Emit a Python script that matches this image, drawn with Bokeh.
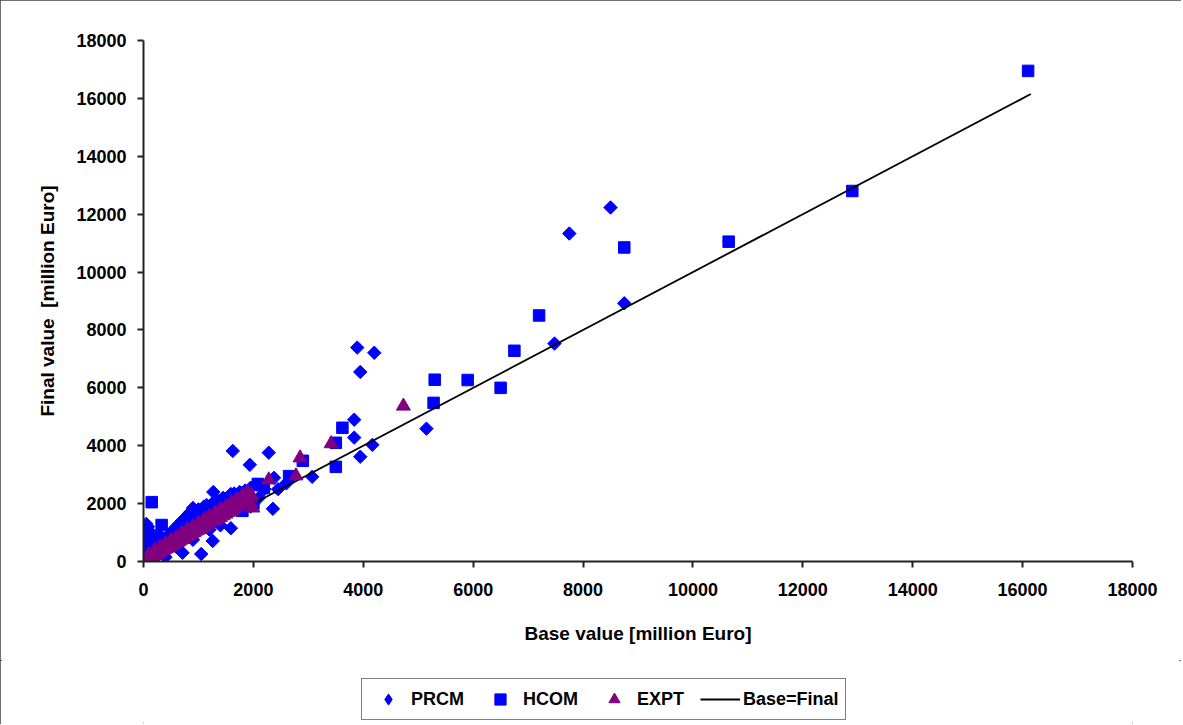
import math
from bokeh.plotting import figure
from bokeh.layouts import column
from bokeh.models import FixedTicker, Legend, LegendItem
from bokeh.embed import file_html
from bokeh.resources import INLINE

# ---------------- data ----------------
ticks = [0, 2000, 4000, 6000, 8000, 10000, 12000, 14000, 16000, 18000]

prcm_x = [8500, 7750, 8750, 7480, 3890, 4200, 3945, 3835, 3835, 4165, 3945, 5150,
          1625, 1935, 2280, 2375, 2355, 3070, 1270, 1050,
          0, 20, 30, 40, 70, 100, 130, 160, 200, 220, 260, 300, 350, 400, 420, 480,
          520, 560, 600, 650, 700, 710, 750, 800, 850, 900, 950, 1000, 1050, 1100,
          1150, 1200, 1260, 1300, 1350, 1400, 1450, 1500, 1590, 1600, 1650, 1700,
          1770, 1800, 1850, 1900, 1950, 2000, 2100, 2200, 2450, 2600, 1590, 1400,
          1200, 900, 600,
          0, 0, 0, 10, 50, 80, 120, 180, 250, 300, 350, 450, 500, 550, 600, 650,
          700, 750, 800, 850, 950, 1000, 1100, 1150, 1250, 1350, 1450, 1550, 1650,
          1750, 1850, 1950, 2050]
prcm_y = [12230, 11330, 8920, 7530, 7390, 7210, 6550, 4900, 4280, 4030, 3620, 4590,
          3820, 3340, 3760, 2890, 1820, 2925, 2400, 260,
          30, 400, 750, 1120, 900, 600, 1000, 800, 450, 700, 350, 600, 500, 150, 700, 600,
          800, 700, 950, 900, 1050, 300, 1150, 1000, 1250, 1850, 1400, 1550, 1350, 1600,
          1450, 1700, 710, 1800, 1500, 1900, 1650, 2000, 1150, 2100, 1850, 2250,
          2370, 2000, 2100, 2200, 1900, 2050, 2200, 2500, 2500, 2700, 2330, 1250,
          1100, 750, 500,
          200, 500, 800, 1000, 1300, 1200, 900, 600, 800, 900, 750, 900, 1000, 1100,
          1200, 1300, 1400, 1500, 1600, 1700, 1750, 1800, 1900, 1950, 2000, 2100,
          2200, 2250, 2350, 2400, 2450, 2550, 2650]

hcom_x = [16100, 12900, 10650, 8750, 7200, 6750, 5900, 6500, 5300, 5280, 3620, 3500,
          3500, 2900, 2650, 2080, 2190, 150, 330,
          20, 60, 100, 150, 250, 400, 550, 700, 850, 1000, 1150, 1300, 1450, 1600,
          1750, 1900, 2000, 1800]
hcom_y = [16950, 12800, 11050, 10850, 8500, 7280, 6270, 6000, 6280, 5480, 4620, 4100,
          3270, 3480, 2950, 2680, 2540, 2050, 1260,
          100, 300, 500, 350, 450, 600, 750, 850, 1050, 1200, 1350, 1500, 1700, 1900,
          2050, 2300, 2000, 1750]

expt_x = [4730, 3415, 2850, 2775, 2280, 1970, 1990,
          20, 50, 80, 110, 140, 170, 200, 230, 260, 290, 320, 350, 380, 410, 440, 470,
          500, 530, 560, 590, 620, 650, 680, 710, 740, 770, 800, 830, 860, 890, 920,
          950, 980, 1010, 1050, 1100, 1150, 1200, 1250, 1300, 1350, 1400, 1450, 1500,
          1550, 1600, 1650, 1700, 1750, 1800, 1850, 1900, 1950, 1620, 1500, 1000, 700, 300,
          100, 200, 300, 400, 500, 600, 700, 800, 900, 1000, 1100, 1200, 1300, 1400,
          1500, 1600, 1700, 1800, 1900]
expt_y = [5370, 4070, 3580, 2960, 2820, 2270, 1850,
          15, 45, 70, 110, 150, 170, 210, 240, 270, 310, 330, 380, 400, 440, 470, 500,
          540, 570, 600, 640, 670, 700, 740, 760, 800, 840, 870, 900, 940, 980, 1000,
          1050, 1080, 1110, 1150, 1200, 1250, 1300, 1380, 1420, 1470, 1520, 1580, 1640,
          1700, 1760, 1810, 1870, 1920, 2000, 2050, 2150, 2200, 1900, 1800, 1250, 900, 400,
          250, 380, 500, 620, 740, 850, 980, 1100, 1200, 1320, 1450, 1560, 1680, 1800,
          1900, 2020, 2150, 2280, 2400]

line_x = [0, 16150]
line_y = [0, 16150]

series_labels = ["PRCM", "HCOM", "EXPT", "Base=Final"]
x_title = "Base value [million Euro]"
y_title = "Final value\u00a0 [million Euro]"

# ---------------- styles ----------------
FONT = "Liberation Sans"
BLUE = "#0000FF"
PURPLE = "#800080"
prcm_style = dict(marker="square", angle=math.pi / 4, size=9.5, fill_color=BLUE, line_color=BLUE)
prcm_key_style = dict(marker="diamond", size=13, fill_color=BLUE, line_color=BLUE)
hcom_style = dict(marker="square", size=11.5, fill_color=BLUE, line_color=BLUE)
expt_style = dict(marker="triangle", size=14, fill_color=PURPLE, line_color=PURPLE)
line_style = dict(line_color="black", line_width=1.8)

# ---------------- main chart ----------------
p = figure(width=1181, height=660,
           min_border_left=143, min_border_right=49,
           min_border_top=40, min_border_bottom=99,
           x_range=(0, 18000), y_range=(0, 18000),
           output_backend="svg", toolbar_location=None,
           background_fill_color="white", border_fill_color="white")
p.outline_line_color = None
p.xgrid.visible = False
p.ygrid.visible = False

p.scatter(prcm_x, prcm_y, **prcm_style)
p.scatter(hcom_x, hcom_y, **hcom_style)
p.line(line_x, line_y, **line_style)
p.scatter(expt_x, expt_y, **expt_style)

for ax in (p.xaxis, p.yaxis):
    ax.ticker = FixedTicker(ticks=ticks)
    ax.minor_tick_line_color = None
    ax.major_tick_in = 0
    ax.major_tick_out = 6
    ax.axis_line_color = "#222222"
    ax.axis_line_width = 2
    ax.major_tick_line_color = "#222222"
    ax.major_tick_line_width = 2
    ax.major_label_text_font = FONT
    ax.major_label_text_font_style = "bold"
    ax.major_label_text_font_size = "18px"
    ax.major_label_text_color = "black"
    ax.axis_label_text_font = FONT
    ax.axis_label_text_font_style = "bold"
    ax.axis_label_text_font_size = "19px"
    ax.axis_label_text_color = "black"

p.xaxis.axis_label = x_title
p.yaxis.axis_label = y_title
p.xaxis.major_label_standoff = 15
p.yaxis.major_label_standoff = 11
p.xaxis.axis_label_standoff = 24
p.yaxis.axis_label_standoff = 15

# ---------------- legend strip ----------------
# the same series, in a strip whose ranges keep them out of view: only the legend shows
q = figure(width=1181, height=64, x_range=(-2, -1), y_range=(-2, -1),
           min_border=0, x_axis_type=None, y_axis_type=None,
           output_backend="svg", toolbar_location=None,
           background_fill_color="white", border_fill_color="white")
q.outline_line_color = None
q.xgrid.visible = False
q.ygrid.visible = False
k1 = q.scatter(prcm_x, prcm_y, **prcm_key_style)
k2 = q.scatter(hcom_x, hcom_y, **hcom_style)
k3 = q.line(line_x, line_y, **line_style)
k4 = q.scatter(expt_x, expt_y, **expt_style)

legend = Legend(items=[LegendItem(label=series_labels[0], renderers=[k1]),
                       LegendItem(label=series_labels[1], renderers=[k2]),
                       LegendItem(label=series_labels[2], renderers=[k4]),
                       LegendItem(label=series_labels[3], renderers=[k3])],
                location=(218, 4), orientation="horizontal",
                glyph_width=40, glyph_height=28, label_standoff=3, spacing=16,
                padding=6, margin=0,
                border_line_color="black", border_line_width=1.5,
                background_fill_color="white", background_fill_alpha=1,
                label_text_font=FONT, label_text_font_style="bold",
                label_text_font_size="18px", label_text_color="black")
q.add_layout(legend)

layout = column(p, q, spacing=0,
                styles={"outline": "2px solid #404040", "outline-offset": "-2px"})

open("out.html", "w").write(file_html(layout, INLINE))
